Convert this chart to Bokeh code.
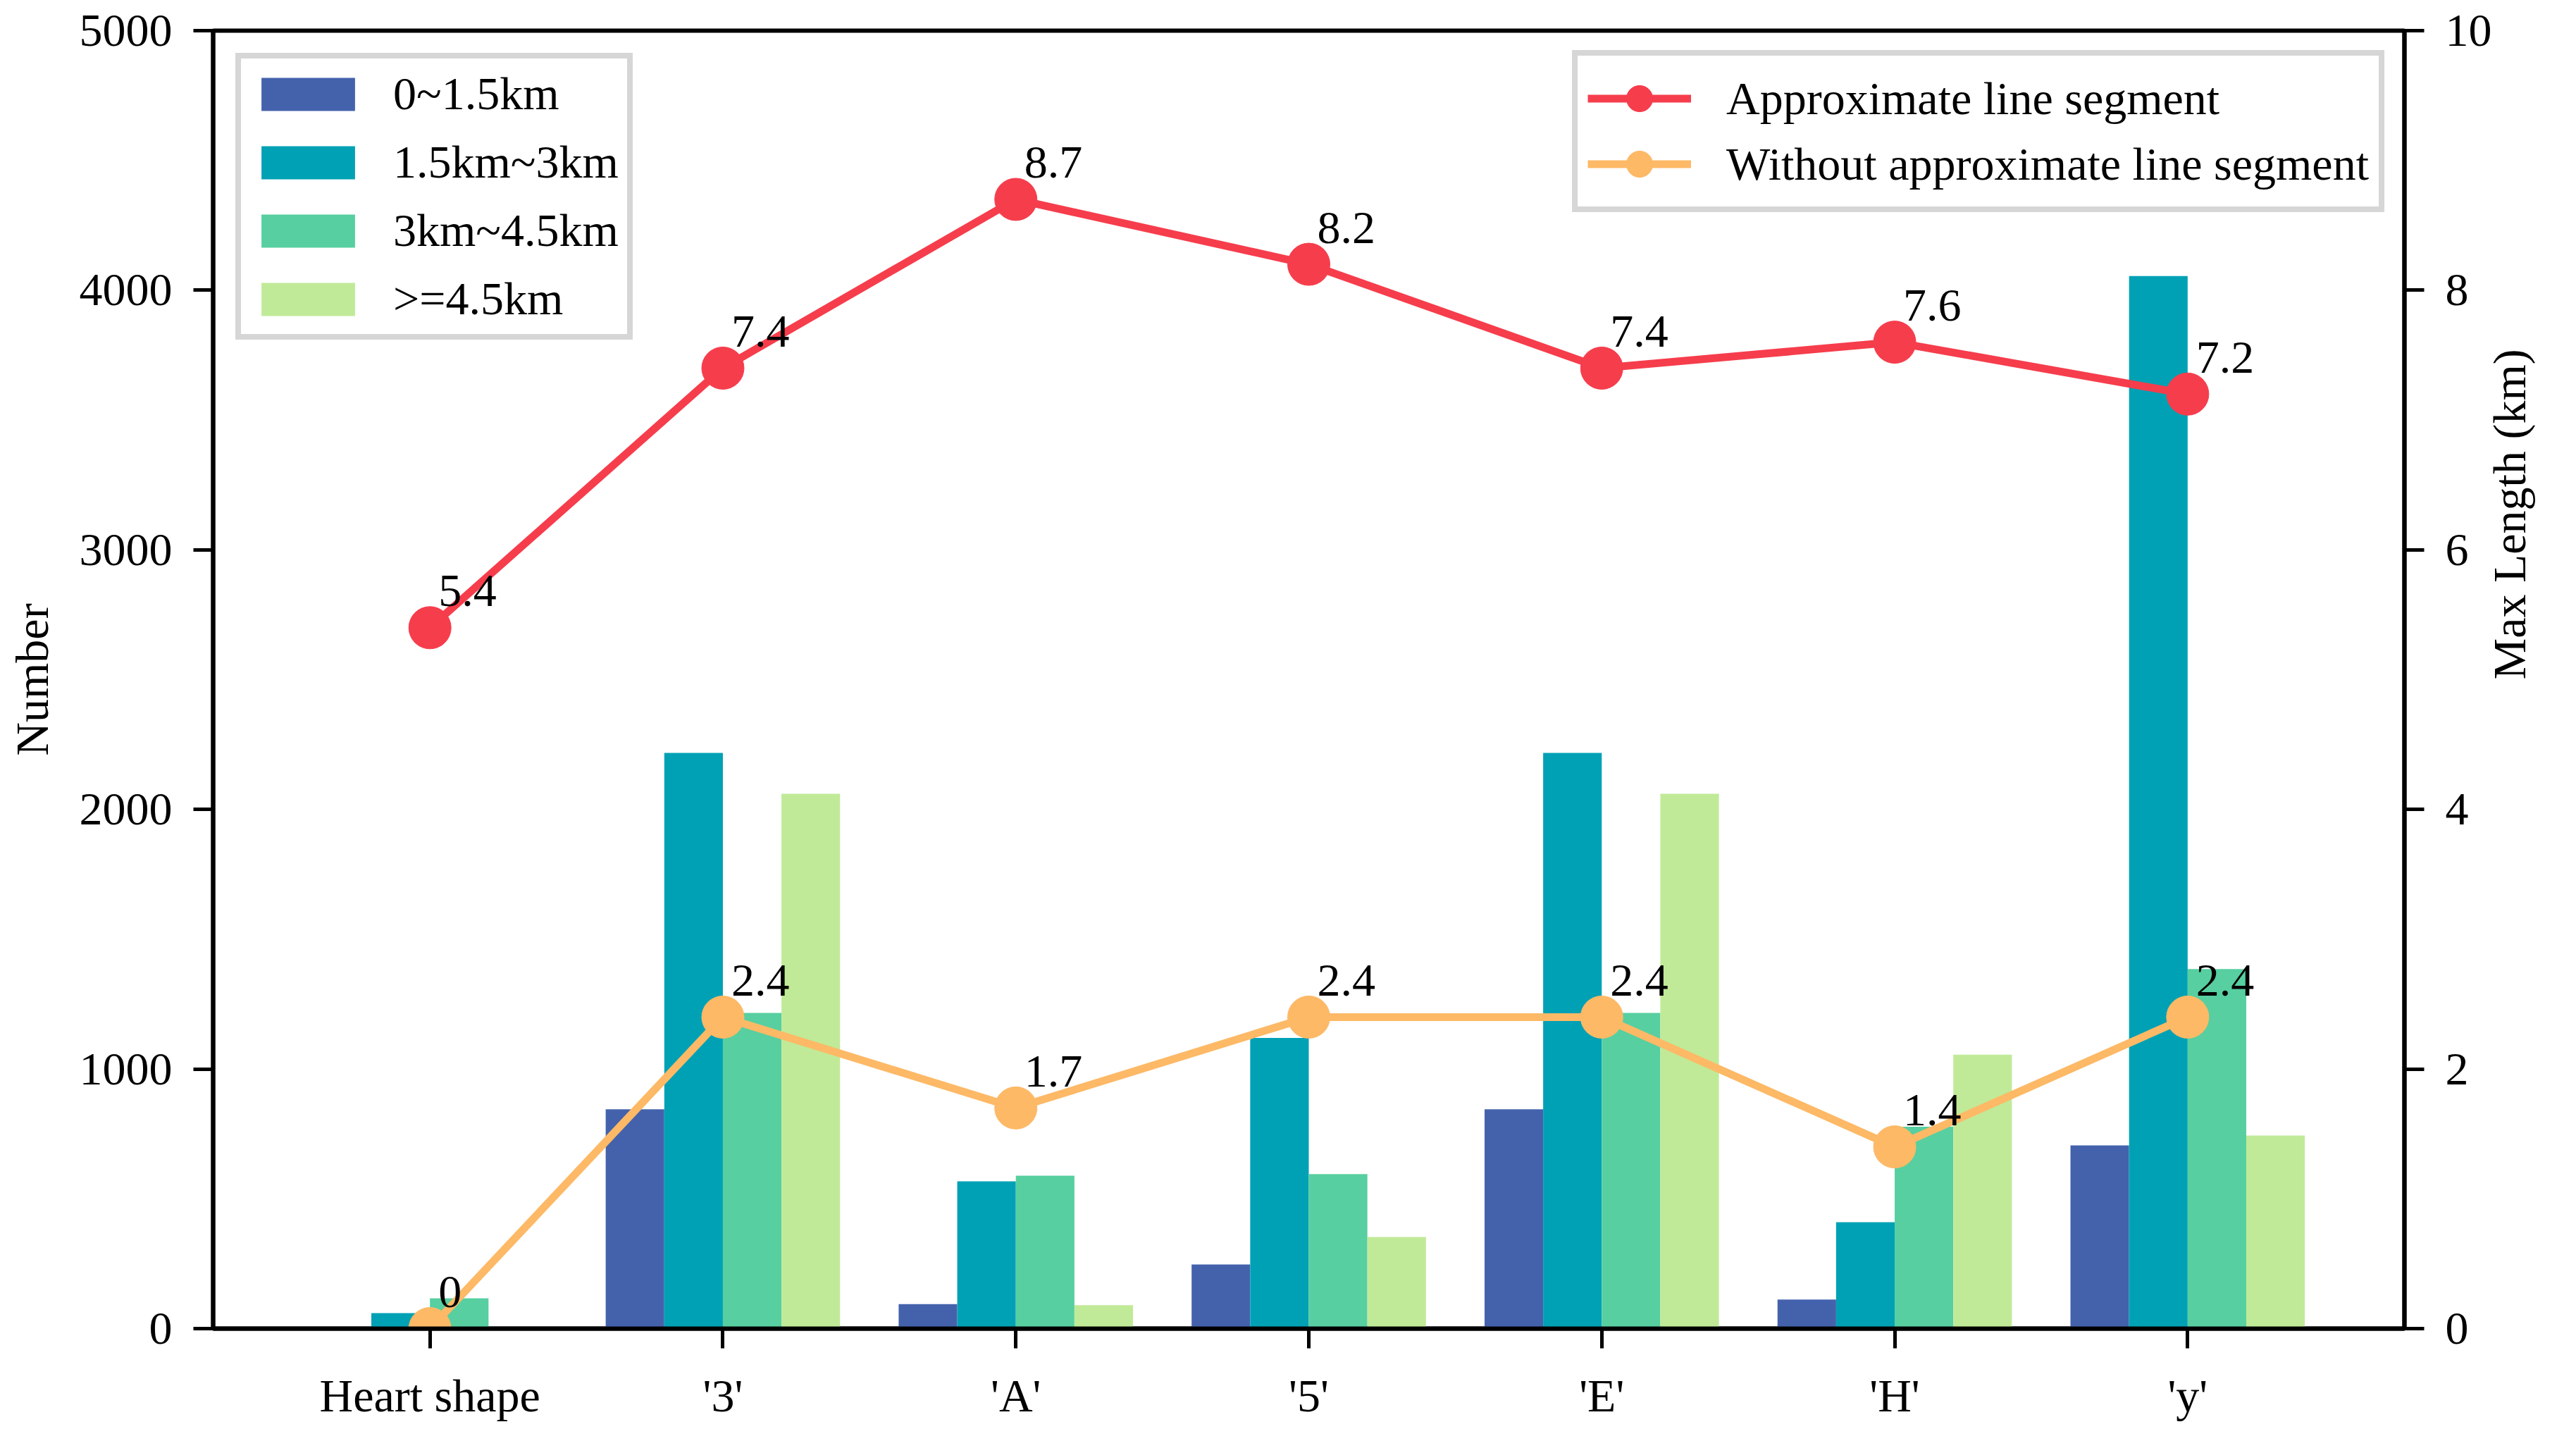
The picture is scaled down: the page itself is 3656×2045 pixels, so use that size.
import math
from bokeh.plotting import figure
from bokeh.models import Range1d, LinearAxis, FixedTicker, Legend, LegendItem, ColumnDataSource
from bokeh.core.properties import value
from bokeh.embed import file_html
from bokeh.resources import INLINE

# ---------------- data ----------------
categories = ["Heart shape", "'3'", "'A'", "'5'", "'E'", "'H'", "'y'"]
series_names = ["0~1.5km", "1.5km~3km", "3km~4.5km", ">=4.5km"]
count_0_15 = [0, 845, 94, 247, 845, 112, 706]
count_15_3 = [60, 2218, 567, 1120, 2218, 410, 4055]
count_3_45 = [117, 1216, 589, 595, 1216, 778, 1385]
count_ge45 = [6, 2060, 90, 353, 2060, 1055, 744]
approx_len = [5.4, 7.4, 8.7, 8.2, 7.4, 7.6, 7.2]
without_len = [0, 2.4, 1.7, 2.4, 2.4, 1.4, 2.4]
count_ticks = [0, 1000, 2000, 3000, 4000, 5000]
length_ticks = [0, 2, 4, 6, 8, 10]
line_names = ["Approximate line segment", "Without approximate line segment"]

bar_colors = ["#4462AC", "#00A1B5", "#57CFA0", "#C0EA98"]
line_colors = ["#F63D4C", "#FDB966"]
FONT = "Liberation Serif"
FS = "66px"

p = figure(width=3640, height=2029, output_backend="svg", toolbar_location=None,
           x_range=Range1d(-0.74, 6.74), y_range=Range1d(0, 5000),
           min_border_left=302, min_border_right=228, min_border_top=43, min_border_bottom=144)
p.xgrid.visible = False
p.ygrid.visible = False
p.outline_line_color = "black"
p.outline_line_width = 6
p.background_fill_color = "white"
p.border_fill_color = "white"

p.extra_y_ranges = {"len": Range1d(0, 10)}

# bars
series = [count_0_15, count_15_3, count_3_45, count_ge45]
bw = 0.2
bar_renderers = []
for k, vals in enumerate(series):
    xs = [i + (k - 1.5) * bw for i in range(len(categories))]
    src = ColumnDataSource(dict(x=xs, top=vals))
    r = p.vbar(x="x", top="top", width=bw, bottom=0, source=src,
               fill_color=bar_colors[k], line_color=None)
    bar_renderers.append(r)

# lines
line_items = []
for vals, col, name in zip([approx_len, without_len], line_colors, line_names):
    src = ColumnDataSource(dict(x=list(range(len(categories))), y=vals,
                                t=[f"{v:g}" for v in vals]))
    lr = p.line(x="x", y="y", source=src, line_color=col, line_width=11, y_range_name="len")
    sr = p.scatter(x="x", y="y", source=src, size=60, fill_color=col, line_color=col,
                   y_range_name="len")
    p.text(x="x", y="y", text="t", source=src, y_range_name="len",
           x_offset=12, y_offset=-52, text_font=value(FONT), text_font_size=FS,
           text_color="black", text_baseline="alphabetic", text_align="left")
    line_items.append(LegendItem(label=name, renderers=[lr, sr]))

# axes
ax_r = LinearAxis(y_range_name="len", axis_label="Max Length (km)",
                  ticker=FixedTicker(ticks=length_ticks))
p.add_layout(ax_r, "right")
if hasattr(ax_r, "axis_label_orientation"):
    ax_r.axis_label_orientation = math.pi / 2

p.xaxis.ticker = FixedTicker(ticks=list(range(len(categories))))
p.xaxis.major_label_overrides = {i: c for i, c in enumerate(categories)}
p.yaxis[0].ticker = FixedTicker(ticks=count_ticks)
p.yaxis[0].axis_label = "Number"

for ax in [p.xaxis[0], p.yaxis[0], ax_r]:
    ax.axis_line_width = 6
    ax.axis_line_color = "black"
    ax.major_tick_line_width = 5
    ax.major_tick_line_color = "black"
    ax.major_tick_out = 28
    ax.major_tick_in = 0
    ax.minor_tick_line_color = None
    ax.major_label_text_font = FONT
    ax.major_label_text_font_size = FS
    ax.major_label_text_color = "black"
    ax.major_label_standoff = 30
    ax.axis_label_text_font = FONT
    ax.axis_label_text_font_size = FS
    ax.axis_label_text_font_style = "normal"
    ax.axis_label_text_color = "black"
p.yaxis[0].axis_label_standoff = 28
ax_r.axis_label_standoff = 22

# legends
leg1 = Legend(items=[LegendItem(label=n, renderers=[r]) for n, r in zip(series_names, bar_renderers)],
              location="top_left", margin=32, padding=12, spacing=21,
              glyph_width=166, glyph_height=59, label_standoff=38,
              label_text_font=FONT, label_text_font_size=FS, label_text_color="black",
              border_line_color="#d6d6d6", border_line_width=8, border_line_alpha=1,
              background_fill_color="white", background_fill_alpha=1)
leg2 = Legend(items=line_items, location="top_right", margin=28, padding=14, spacing=0,
              glyph_width=147, glyph_height=93, label_standoff=50,
              label_text_font=FONT, label_text_font_size=FS, label_text_color="black",
              border_line_color="#d6d6d6", border_line_width=8, border_line_alpha=1,
              background_fill_color="white", background_fill_alpha=1)
p.add_layout(leg1)
p.add_layout(leg2)

open("out.html", "w").write(file_html(p, INLINE))
